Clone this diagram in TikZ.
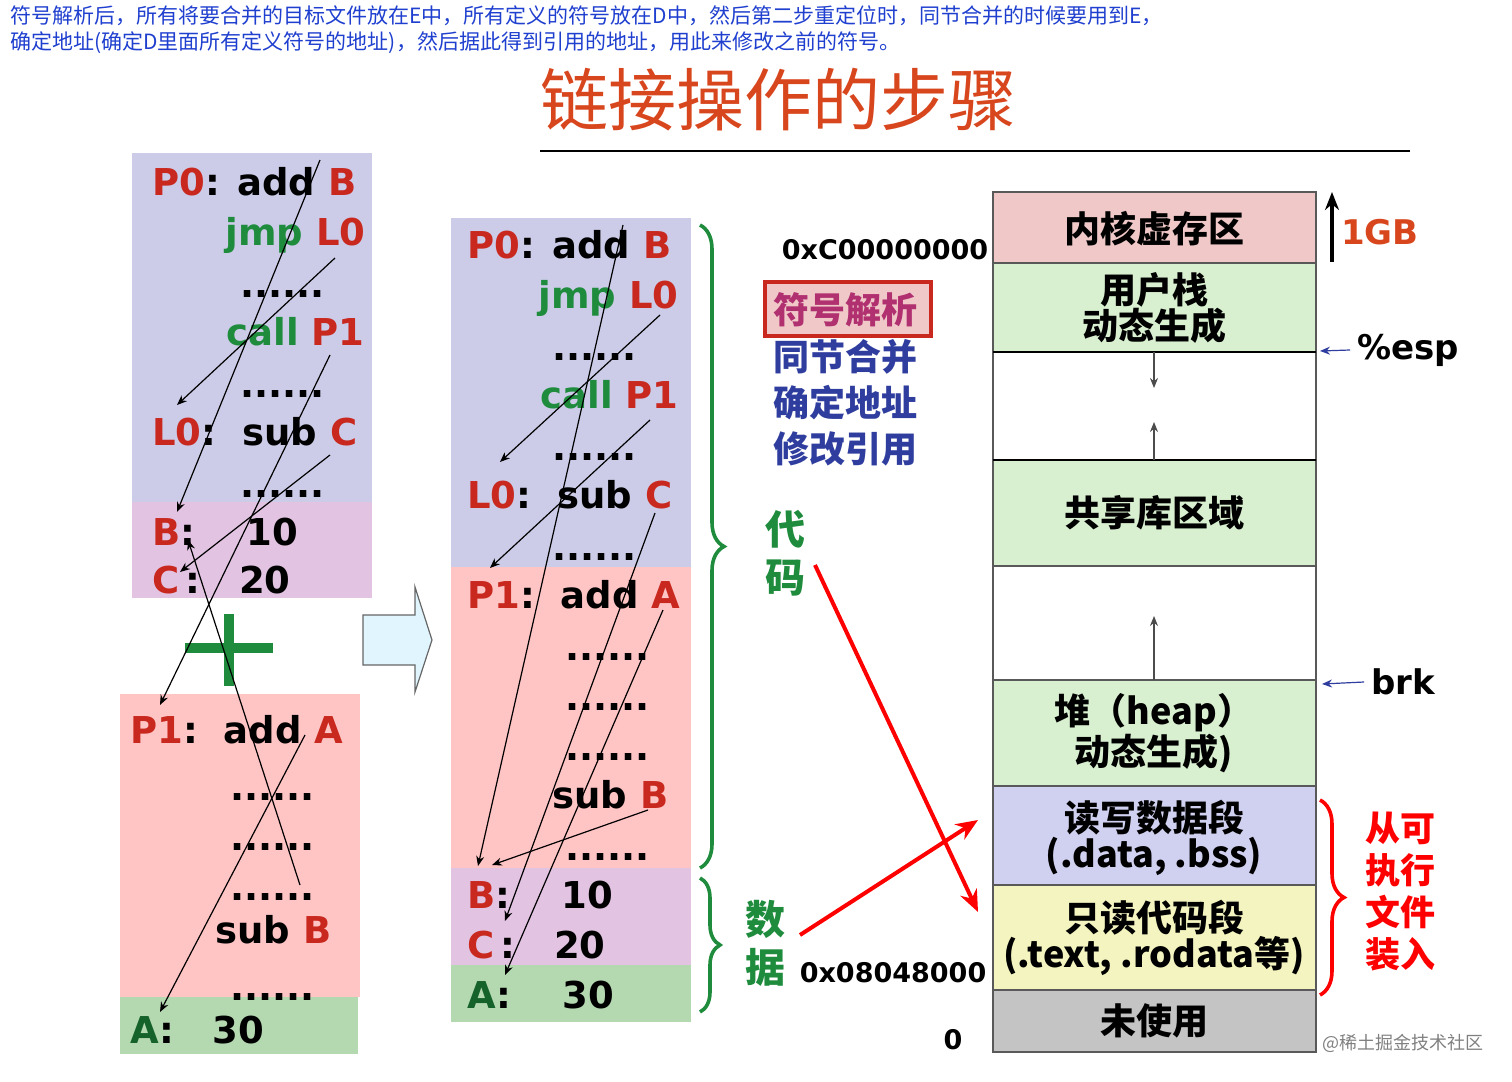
\documentclass[tikz,border=0pt]{standalone}
\usepackage{fontspec}
\setmainfont{DejaVu Sans}
\newfontfamily\cjk{Noto Sans CJK SC}
\usetikzlibrary{arrows.meta,decorations.pathreplacing}
\definecolor{Rc}{HTML}{C8281E}
\definecolor{Gc}{HTML}{1E8C3C}
\definecolor{Tc}{HTML}{D8461E}
\definecolor{Bl}{HTML}{1F3FCF}
\definecolor{Nv}{HTML}{2F3E9E}
\definecolor{Pu}{HTML}{B03070}
\definecolor{cB}{HTML}{CCCCE8}
\definecolor{cP}{HTML}{E2C4E2}
\definecolor{cR}{HTML}{FFC4C4}
\definecolor{cG}{HTML}{B4D8B0}
\definecolor{cK}{HTML}{F0C8C8}
\definecolor{cL}{HTML}{D8F0D0}
\definecolor{cV}{HTML}{D0D0F0}
\definecolor{cY}{HTML}{F4F4C0}
\definecolor{cS}{HTML}{C4C4C4}
\newcommand\fs{\fontsize{18.5}{19}\selectfont\bfseries}
\newcommand\fc{\fontsize{18}{18}\selectfont\cjk\bfseries}
\newcommand\R[1]{\textcolor{Rc}{#1}}
\newcommand\G[1]{\textcolor{Gc}{#1}}
\tikzset{T/.style={font=\fs, anchor=base west, inner sep=0pt},
 M/.style={font=\fc, align=center, inner sep=0pt},
 ln/.style={draw=black, line width=0.6pt, -{Stealth[length=5pt,width=4pt]}}}
\begin{document}
\begin{tikzpicture}[x=0.5pt,y=-0.5pt]
\useasboundingbox (0,0) rectangle (1512,1082);
% header
\node[anchor=west,inner sep=0,text=Bl,font=\fontsize{10.5}{13}\selectfont\cjk,align=left] (hd) at (10,30) {符号解析后，所有将要合并的目标文件放在E中，所有定义的符号放在D中，然后第二步重定位时，同节合并的时候要用到E，\\确定地址(确定D里面所有定义符号的地址)，然后据此得到引用的地址，用此来修改之前的符号。};
\node[text=Tc,font=\fontsize{34}{34}\selectfont\cjk] (title) at (778,100) {链接操作的步骤};
\draw[line width=0.8pt] (540,151) -- (1410,151);
% left panels
\fill[cB] (132,153) rectangle (372,502);
\fill[cP] (132,502) rectangle (372,598);
\fill[cR] (120,694) rectangle (360,997);
\fill[cG] (120,997) rectangle (358,1054);
\node[T] (l1) at (152,195) {\R{P0}: add \R{B}};
\node[T] (l2) at (225,245) {\G{jmp} \R{L0}};
\node[T] (l3) at (240,297) {......};
\node[T] (l4) at (226,345) {\G{call} \R{P1}};
\node[T] (l5) at (240,397) {......};
\node[T] (l6) at (152,445) {\R{L0}:\ \ sub \R{C}};
\node[T] (l7) at (240,497) {......};
\node[T] (l8) at (152,545) {\R{B}:\ \ \ \ 10};
\node[T] (l9) at (152,593) {\R{C}\,:\ \ \ 20};
\fill[Gc] (185,643) rectangle (273,653);
\fill[Gc] (224,614) rectangle (234,686);
\node[T] (k1) at (130,743) {\R{P1}:\ \ add \R{A}};
\node[T] (k2) at (230,800) {......};
\node[T] (k3) at (230,850) {......};
\node[T] (k4) at (230,900) {......};
\node[T] (k5) at (215,943) {sub \R{B}};
\node[T] (k6) at (230,1000) {......};
\node[T] (k7) at (130,1043) {\textcolor{Gc!70!black}{A}:\ \ \ 30};
% left lines
\draw[ln] (335,258) -- (177,405);
\draw[ln] (320,160) -- (177,512);
\draw[ln] (330,355) -- (160,705);
\draw[ln] (330,455) -- (180,572);
\draw[ln] (305,735) -- (160,1012);
\draw[ln] (300,885) -- (188,540);
% hollow arrow
\draw[fill=cyan!12!white,draw=gray!80!black,line width=0.6pt] (363,615)--(415,615)--(415,587)--(432,640)--(415,692)--(415,665)--(363,665)--cycle;
% middle panel
\fill[cB] (451,218) rectangle (691,567);
\fill[cR] (451,567) rectangle (691,868);
\fill[cP] (451,868) rectangle (691,965);
\fill[cG] (451,965) rectangle (691,1022);
\node[T] (m1) at (467,258) {\R{P0}: add \R{B}};
\node[T] (m2) at (538,308) {\G{jmp} \R{L0}};
\node[T] (m3) at (552,360) {......};
\node[T] (m4) at (540,408) {\G{call} \R{P1}};
\node[T] (m5) at (552,460) {......};
\node[T] (m6) at (467,508) {\R{L0}:\ \ sub \R{C}};
\node[T] (m7) at (552,560) {......};
\node[T] (m8) at (467,608) {\R{P1}:\ \ add \R{A}};
\node[T] (m9) at (565,660) {......};
\node[T] (m10) at (565,710) {......};
\node[T] (m11) at (565,760) {......};
\node[T] (m12) at (552,808) {sub \R{B}};
\node[T] (m13) at (565,860) {......};
\node[T] (m14) at (467,908) {\R{B}:\ \ \ \ 10};
\node[T] (m15) at (467,958) {\R{C}\,:\ \ \ 20};
\node[T] (m16) at (467,1008) {\textcolor{Gc!70!black}{A}:\ \ \ \ 30};
\draw[ln] (623,225) -- (478,866);
\draw[ln] (660,315) -- (500,462);
\draw[ln] (650,420) -- (490,568);
\draw[ln] (655,513) -- (505,921);
\draw[ln] (663,610) -- (505,975);
\draw[ln] (648,810) -- (492,865);
% braces
\draw[Gc,line width=1.8pt,decorate,decoration={brace,amplitude=12pt}] (700,225) -- (700,868);
\draw[Gc,line width=1.8pt,decorate,decoration={brace,amplitude=10pt}] (700,878) -- (700,1012);
\node[M,text=Gc,font=\fontsize{20}{24}\selectfont\cjk\bfseries] (dm) at (785,553) {代\\码};
\node[M,text=Gc,font=\fontsize{20}{24}\selectfont\cjk\bfseries] (sj) at (765,943) {数\\据};
% labels
\node[font=\fontsize{13.5}{14}\selectfont\bfseries,inner sep=0] (a1) at (885,250) {0xC00000000};
\node[font=\fontsize{13.5}{14}\selectfont\bfseries,inner sep=0] (a2) at (893,973) {0x08048000};
\node[font=\fontsize{13.5}{14}\selectfont\bfseries,inner sep=0] (a3) at (953,1040) {0};
\draw[Rc,line width=1.6pt,fill=cK] (765,282) rectangle (931,336);
\node[M,text=Pu] (s1) at (845,310) {符号解析};
\node[M,text=Nv] (s2) at (845,357) {同节合并};
\node[M,text=Nv] (s3) at (845,403) {确定地址};
\node[M,text=Nv] (s4) at (845,449) {修改引用};
% right column
\begin{scope}[draw=gray!70!black,line width=0.6pt]
\filldraw[fill=cK] (993,192) rectangle (1316,263);
\filldraw[fill=cL] (993,263) rectangle (1316,352);
\filldraw[fill=white] (993,352) rectangle (1316,460);
\filldraw[fill=cL] (993,460) rectangle (1316,566);
\filldraw[fill=white] (993,566) rectangle (1316,680);
\filldraw[fill=cL] (993,680) rectangle (1316,786);
\filldraw[fill=cV] (993,786) rectangle (1316,885);
\filldraw[fill=cY] (993,885) rectangle (1316,990);
\filldraw[fill=cS] (993,990) rectangle (1316,1052);
\end{scope}
\draw[line width=1.2pt] (993,352)--(1316,352) (993,460)--(1316,460);
\node[M] (r1) at (1154,229) {内核虚存区};
\node[M] (r2) at (1154,308) {用户栈\\动态生成};
\node[M] (r3) at (1154,513) {共享库区域};
\node[M] (r4) at (1154,733) {堆（heap）\\动态生成)};
\node[M] (r5) at (1154,838) {读写数据段\\(.data, .bss)};
\node[M] (r6) at (1154,938) {只读代码段\\(.text, .rodata等)};
\node[M] (r7) at (1154,1021) {未使用};
\coordinate (u1) at (1154,352); \coordinate (u2) at (1154,388);
\coordinate (v1) at (1154,460); \coordinate (v2) at (1154,422);
\coordinate (w1) at (1154,680); \coordinate (w2) at (1154,616);
\draw[ln,gray!60!black] (u1) -- (u2);
\draw[ln,gray!60!black] (v1) -- (v2);
\draw[ln,gray!60!black] (w1) -- (w2);
\coordinate (g1) at (1332,262); \coordinate (g2) at (1332,192);
\draw[line width=1.8pt,-{Stealth[length=9pt,width=7pt]}] (g1) -- (g2);
\node[font=\fontsize{17}{17}\selectfont\bfseries,text=Tc] (gb) at (1380,232) {1GB};
\node[font=\fontsize{17}{17}\selectfont\bfseries] (esp) at (1408,350) {\%esp};
\node[font=\fontsize{17}{17}\selectfont\bfseries] (brk) at (1403,682) {brk};
\coordinate (e2) at (1320,351); \coordinate (b2) at (1322,684);
\draw[ln,Nv] (esp.west) -- (e2);
\draw[ln,Nv] (brk.west) -- (b2);
\draw[red,line width=1.8pt,decorate,decoration={brace,amplitude=12pt}] (1320,800) -- (1320,995);
\node[M,text=red,font=\fontsize{17.5}{21}\selectfont\cjk\bfseries] (zr) at (1400,892) {从可\\执行\\文件\\装入};
% red arrows
\coordinate (x1) at (815,565); \coordinate (x2) at (978,912);
\coordinate (y1) at (800,935); \coordinate (y2) at (978,820);
\draw[red,line width=2pt,-{Stealth[length=11pt,width=9pt]}] (x1) -- (x2);
\draw[red,line width=2pt,-{Stealth[length=11pt,width=9pt]}] (y1) -- (y2);
\node[text=gray,font=\fontsize{9}{9}\selectfont\cjk] (wm) at (1403,1043) {@稀土掘金技术社区};
\end{tikzpicture}
\end{document}
